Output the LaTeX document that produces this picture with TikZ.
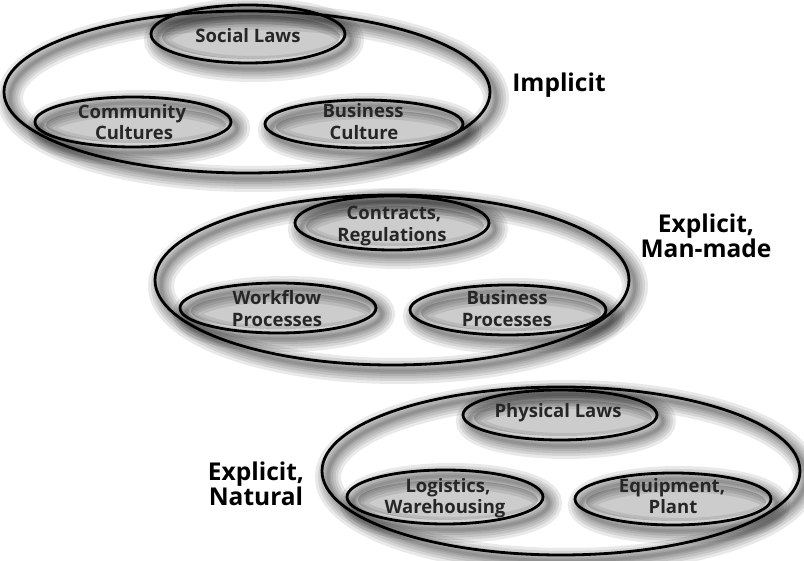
\documentclass[tikz,border=0pt]{standalone}
\usepackage{fontspec}
\setmainfont{Open Sans}
\begin{document}
\begin{tikzpicture}[x=1pt,y=-1pt,
  glowring/.style={draw=black, line width=#1, opacity=0.085},
  outline/.style={draw=black, line width=2.8pt},
  innerfill/.style={fill=black, opacity=0.2},
  inlbl/.style={font=\fontsize{18.5}{22}\selectfont\bfseries, anchor=base, inner sep=0pt, text=black!85},
  biglbl/.style={font=\fontsize{24.5}{28}\selectfont\bfseries, anchor=base, inner sep=0pt}
]
\useasboundingbox (0,0) rectangle (804,561);
\fill[white] (0,0) rectangle (804,561);
% shadows / glows
\foreach \cx/\cy/\rx/\ry in {247/92/243/81, 392/280/237/85, 561/471/239/84,
  248/34/97/29, 133/122/98/25, 364/124/99/24, 392/223/97/27, 278/308/98/25,
  508/310/98/25, 560/415/97/25, 445/497/98/27, 673/499/98/26}{
  \foreach \w in {26,20,15,10,6,3}{
    \draw[glowring=\w pt] (\cx+6,\cy+6) ellipse [x radius=\rx, y radius=\ry];
  }
}
% inner fills
\foreach \cx/\cy/\rx/\ry in {248/34/97/29, 133/122/98/25, 364/124/99/24,
  392/223/97/27, 278/308/98/25, 508/310/98/25, 560/415/97/25, 445/497/98/27, 673/499/98/26}{
  \fill[innerfill] (\cx+3,\cy+3) ellipse [x radius=\rx-8, y radius=\ry-7];
}
% outlines
\foreach \cx/\cy/\rx/\ry in {247/92/243/81, 392/280/237/85, 561/471/239/84,
  248/34/97/29, 133/122/98/25, 364/124/99/24, 392/223/97/27, 278/308/98/25,
  508/310/98/25, 560/415/97/25, 445/497/98/27, 673/499/98/26}{
  \draw[outline] (\cx,\cy) ellipse [x radius=\rx, y radius=\ry];
}
% inner labels
\node[inlbl] (sl)  at (248,43)  {Social Laws};
\node[inlbl] (cc1) at (132,119) {Community};
\node[inlbl] (cc2) at (134,140) {Cultures};
\node[inlbl] (bc1) at (363,118) {Business};
\node[inlbl] (bc2) at (364,140) {Culture};
\node[inlbl] (cr1) at (394,220) {Contracts,};
\node[inlbl] (cr2) at (392,242) {Regulations};
\node[inlbl] (wp1) at (277,305) {Workflow};
\node[inlbl] (wp2) at (277,327) {Processes};
\node[inlbl] (bp1) at (507,305) {Business};
\node[inlbl] (bp2) at (507,327) {Processes};
\node[inlbl] (pl)  at (558,418) {Physical Laws};
\node[inlbl] (lw1) at (448,493) {Logistics,};
\node[inlbl] (lw2) at (445,513) {Warehousing};
\node[inlbl] (ep1) at (672,493) {Equipment,};
\node[inlbl] (ep2) at (673,513) {Plant};
% category labels
\node[biglbl] (imp) at (559,92)  {Implicit};
\node[biglbl] (em1) at (706,233) {Explicit,};
\node[biglbl] (em2) at (706,258) {Man-made};
\node[biglbl] (en1) at (256,480) {Explicit,};
\node[biglbl] (en2) at (256,505) {Natural};
\end{tikzpicture}
\end{document}
